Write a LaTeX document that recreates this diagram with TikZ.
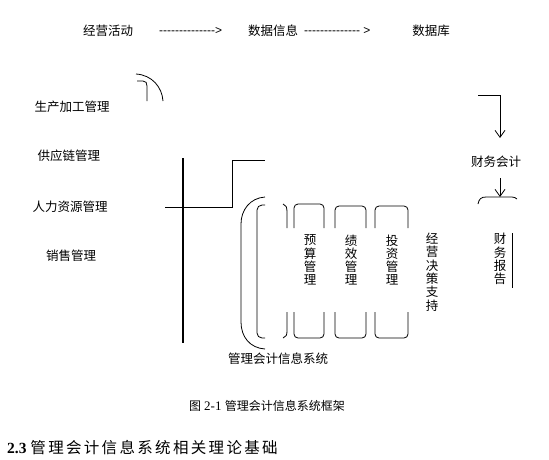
\documentclass[tikz,border=0pt]{standalone}
\usepackage{fontspec}
\setmainfont{Liberation Serif}
\newfontfamily\cjk{Noto Sans CJK SC}
\newfontfamily\cjkwide[LetterSpace=15]{Noto Sans CJK SC}
\newfontfamily\arial{Liberation Sans}
\usetikzlibrary{arrows.meta}
\begin{document}
\begin{tikzpicture}[x=1pt,y=-1pt,
  lbl/.style={inner sep=0pt,font=\fontsize{12.5}{13.3}\selectfont\cjk},
  vlbl/.style={inner sep=0pt,align=center,font=\fontsize{12.5}{13.3}\selectfont\cjk},
  ln/.style={line width=0.8pt,black},
  thick ln/.style={line width=1.3pt,black},
  barb/.style={-{Straight Barb[length=7pt,width=10pt,line width=0.8pt]}}
]
\useasboundingbox (0,0) rectangle (549,459);
% top row
\node[lbl] (jyhd) at (108,31) {经营活动};
\node[inner sep=0pt,font=\fontsize{12}{12}\selectfont\arial,anchor=west] (ar1) at (159,31) {--------------{}>};
\node[lbl] (sjxx) at (273,31) {数据信息};
\node[inner sep=0pt,font=\fontsize{12}{12}\selectfont\arial,anchor=west] (ar2) at (304,31) {-------------- >};
\node[lbl] (sjk) at (431,31) {数据库};
% left labels
\node[lbl] (scjg) at (72,107) {生产加工管理};
\node[lbl] (gyl) at (69,156) {供应链管理};
\node[lbl] (rlzy) at (70,207) {人力资源管理};
\node[lbl] (xs) at (71,256) {销售管理};
% top-left arcs
\draw[ln] (136,74) .. controls (152,75) and (162,87) .. (163,101);
\draw[ln] (137,81) -- (143,81) .. controls (146,81) and (147,83) .. (147,86) -- (147,101);
% big vertical and step line
\coordinate (vtop) at (183,158);
\coordinate (vbot) at (183,343);
\draw[thick ln] (vtop) -- (vbot);
\coordinate (h1) at (165,207);
\coordinate (h2) at (232,207);
\coordinate (h3) at (232,160);
\coordinate (h4) at (265,160);
\draw[ln] (h1) -- (h2) -- (h3) -- (h4);
% outer bracket
\draw[ln] (265,197) .. controls (250,198) and (241,210) .. (241,224) -- (241,322) .. controls (241,337) and (250,348) .. (265,349);
% inner bracket
\draw[ln,rounded corners=5pt] (265,205) -- (257,205) -- (257,338) -- (265,338);
\draw[ln] (283,204) .. controls (286,205) and (287,207) .. (287,212) -- (287,228);
\draw[ln] (287,312) -- (287,331) .. controls (287,335) and (286,337) .. (283,338);
% boxes
\foreach \l/\r/\t/\b in {294/324/204/338, 335/366/206/338, 375/408/206/338}{
  \draw[ln,rounded corners=4pt] (\l,228) -- (\l,\t) -- (\r,\t) -- (\r,228);
  \draw[ln,rounded corners=4pt] (\l,312) -- (\l,\b) -- (\r,\b) -- (\r,312);
}
\node[vlbl] (ysgl) at (310,260) {预\\算\\管\\理};
\node[vlbl] (jxgl) at (351,260) {绩\\效\\管\\理};
\node[vlbl] (tzgl) at (392,260) {投\\资\\管\\理};
\node[vlbl] (jyjc) at (432,272) {经\\营\\决\\策\\支\\持};
\node[lbl] (glkj) at (278,359) {管理会计信息系统};
% right side
\coordinate (r1) at (478,95);
\coordinate (r2) at (500,95);
\coordinate (r3) at (500,138);
\draw[ln,barb] (r1) -- (r2) -- (r3);
\node[lbl] (cwkj) at (496,162) {财务会计};
\coordinate (r4) at (500,178);
\coordinate (r5) at (500,197);
\draw[ln,barb] (r4) -- (r5);
\draw[ln] (478,204) .. controls (479,199) and (481,197) .. (486,197) -- (512,197) .. controls (514,197) and (516,198) .. (517,199);
\node[vlbl] (cwbg) at (500,259) {财\\务\\报\\告};
\draw[ln] (512,233) -- (512,288);
% caption
\node[inner sep=0pt,font=\fontsize{12}{12}\selectfont] (cap) at (267,406) {{\cjk 图} \fontsize{13}{13}\selectfont 2-1 {\fontsize{12}{12}\selectfont\cjk 管理会计信息系统框架}};
\node[inner sep=0pt,font=\fontsize{15.5}{15.5}\selectfont,anchor=west] (head) at (7,448) {\textbf{2.3} {\cjkwide 管理会计信息系统相关理论基础}};
\end{tikzpicture}
\end{document}
